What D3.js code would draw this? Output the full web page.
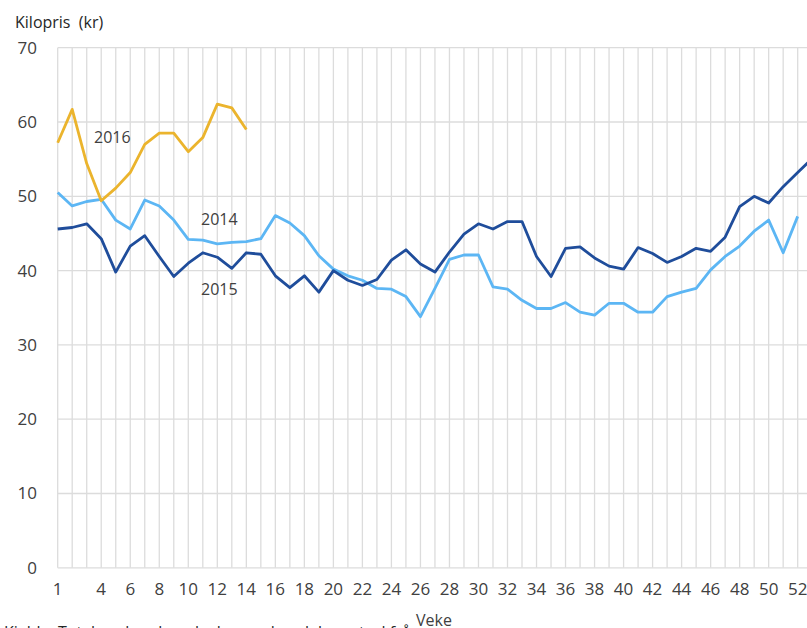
<!DOCTYPE html>
<meta charset="utf-8">
<script src="https://d3js.org/d3.v7.min.js"></script>
<style>
  body { margin: 0; background: #fff; }
  text { font-family: "Open Sans", sans-serif; fill: #404040; }
</style>
<svg id="chart" width="807" height="628"></svg>
<script>
// weeks and kilo prices
const weeks = d3.range(1, 54);
const price2014 = [50.5, 48.7, 49.3, 49.6, 46.8, 45.6, 49.5, 48.7, 46.8, 44.2,
  44.1, 43.6, 43.8, 43.9, 44.3, 47.4, 46.4, 44.7, 42.0, 40.2,
  39.3, 38.7, 37.6, 37.5, 36.5, 33.8, 37.6, 41.5, 42.1, 42.1,
  37.8, 37.5, 36.0, 34.9, 34.9, 35.7, 34.4, 34.0, 35.6, 35.6,
  34.4, 34.4, 36.5, 37.1, 37.6, 40.1, 41.9, 43.3, 45.3, 46.8,
  42.4, 47.3];
const price2015 = [45.6, 45.8, 46.3, 44.3, 39.8, 43.3, 44.7, 41.9, 39.2, 41.0,
  42.4, 41.8, 40.3, 42.4, 42.2, 39.3, 37.7, 39.3, 37.1, 40.0,
  38.7, 38.0, 38.8, 41.4, 42.8, 40.9, 39.8, 42.5, 44.9, 46.3,
  45.6, 46.6, 46.6, 41.9, 39.2, 43.0, 43.2, 41.7, 40.6, 40.2,
  43.1, 42.3, 41.1, 41.9, 43.0, 42.6, 44.5, 48.6, 50.0, 49.1,
  51.3, 53.2, 55.1];
const price2016 = [57.2, 61.7, 54.4, 49.4, 51.1, 53.2, 57.0, 58.5, 58.5, 56.0,
  57.9, 62.4, 61.9, 59.0];
const xTicks = [1].concat(d3.range(4, 53, 2));
const yTicks = [0, 10, 20, 30, 40, 50, 60, 70];

const svg = d3.select("#chart");

const x = d3.scaleLinear().domain([1, 53]).range([57.7, 812.2]);
const y = d3.scaleLinear().domain([0, 70]).range([567.8, 47.7]);

// grid
const grid = svg.append("g").attr("stroke", "#dcdcdc").attr("stroke-width", 1.3);
grid.selectAll(".v")
  .data(weeks)
  .join("line")
    .attr("x1", d => x(d)).attr("x2", d => x(d))
    .attr("y1", y(70)).attr("y2", y(0));
grid.selectAll(".h")
  .data(yTicks)
  .join("line")
    .attr("x1", x(1)).attr("x2", x(53))
    .attr("y1", d => y(d)).attr("y2", d => y(d));

// y tick labels
svg.append("g")
  .selectAll("text")
  .data(yTicks)
  .join("text")
    .attr("x", 37)
    .attr("y", d => y(d))
    .attr("dy", "0.35em")
    .attr("text-anchor", "end")
    .style("font-size", "17px")
    .text(d => d);

// x tick labels
svg.append("g")
  .selectAll("text")
  .data(xTicks)
  .join("text")
    .attr("x", d => x(d))
    .attr("y", 595)
    .attr("text-anchor", "middle")
    .style("font-size", "17px")
    .text(d => d);

// lines
const line = d3.line()
  .x((d, i) => x(i + 1))
  .y(d => y(d));

const series = [
  { values: price2014, color: "#5cb6f4" },
  { values: price2015, color: "#1f4d9b" },
  { values: price2016, color: "#ebb42d" }
];
svg.append("g")
  .selectAll("path")
  .data(series)
  .join("path")
    .attr("d", d => line(d.values))
    .attr("fill", "none")
    .attr("stroke", d => d.color)
    .attr("stroke-width", 2.8)
    .attr("stroke-linejoin", "round");

// series labels
svg.append("text").attr("x", 94).attr("y", 143).style("font-size", "16px").text("2016");
svg.append("text").attr("x", 201).attr("y", 225).style("font-size", "16px").text("2014");
svg.append("text").attr("x", 201).attr("y", 295).style("font-size", "16px").text("2015");

// titles
svg.append("text")
  .attr("x", 15).attr("y", 28)
  .attr("xml:space", "preserve")
  .style("font-size", "16px")
  .style("fill", "#262626")
  .text("Kilopris  (kr)");

svg.append("text")
  .attr("x", 434).attr("y", 626)
  .attr("text-anchor", "middle")
  .style("font-size", "16px")
  .text("Veke");

svg.append("text")
  .attr("x", 4).attr("y", 638)
  .style("font-size", "16px")
  .style("fill", "#262626")
  .text("Kjelde: Totalmarknaden, daglegvarehandelen, utval frå");
</script>
